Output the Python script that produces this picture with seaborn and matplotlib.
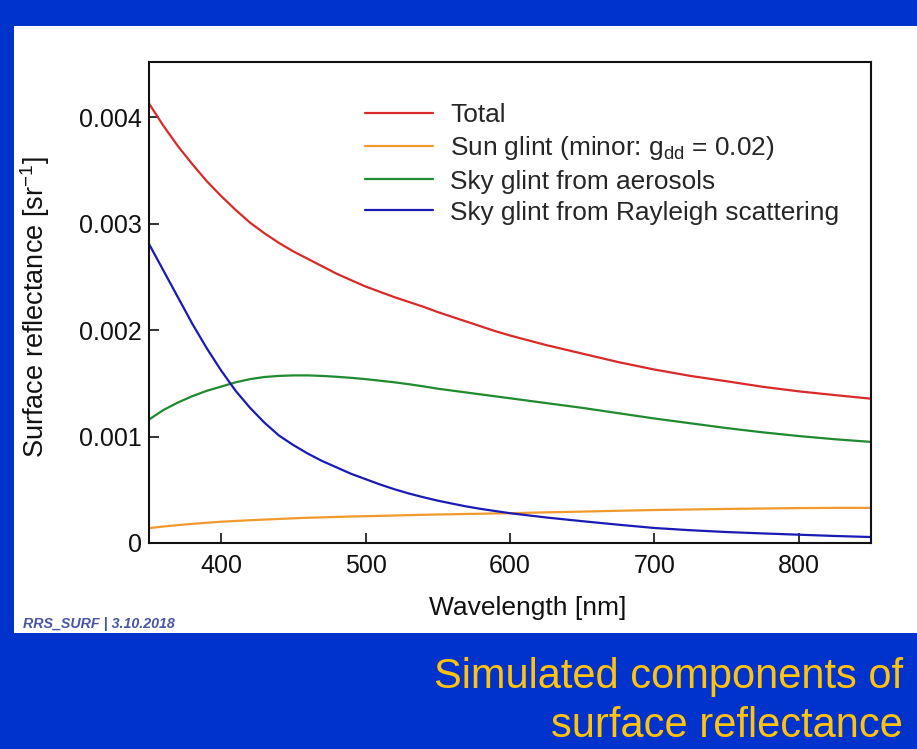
import matplotlib
matplotlib.use("Agg")
import matplotlib.pyplot as plt
from matplotlib.patches import Rectangle
import pandas as pd
import seaborn as sns

# Wavelength grid [nm]: 10 nm steps up to 600 nm, 25 nm steps beyond
wavelength = [350, 360, 370, 380, 390, 400, 410, 420, 430, 440, 450, 460,
              470, 480, 490, 500, 510, 520, 530, 540, 550, 560, 570, 580,
              590, 600, 625, 650, 675, 700, 725, 750, 775, 800, 825, 850]

# Simulated surface reflectance components [sr^-1]
total = [0.00413, 0.00392, 0.00373, 0.00356, 0.00340, 0.00326, 0.00313,
         0.00301, 0.00291, 0.00282, 0.00274, 0.00267, 0.00260, 0.00253,
         0.00247, 0.00241, 0.00236, 0.00231, 0.002265, 0.00222, 0.00217,
         0.002125, 0.00208, 0.002035, 0.00199, 0.00195, 0.00186, 0.00178,
         0.00170, 0.00163, 0.00157, 0.00152, 0.001468, 0.001425, 0.00139,
         0.001356]
sun_glint = [0.00014, 0.000155, 0.000168, 0.00018, 0.00019, 0.0002,
             0.000207, 0.000214, 0.00022, 0.000226, 0.000232, 0.000237,
             0.000241, 0.000245, 0.000249, 0.000252, 0.000255, 0.000258,
             0.000262, 0.000265, 0.000268, 0.00027, 0.000273, 0.000275,
             0.000278, 0.00028, 0.000288, 0.000295, 0.000303, 0.00031,
             0.000315, 0.00032, 0.000324, 0.000328, 0.00033, 0.00033]
sky_aerosol = [0.00116, 0.00125, 0.00132, 0.00138, 0.00143, 0.00147,
               0.00151, 0.00154, 0.00156, 0.00157, 0.001575, 0.001575,
               0.00157, 0.001562, 0.001552, 0.00154, 0.001525, 0.00151,
               0.001492, 0.001472, 0.00145, 0.001432, 0.001414, 0.001396,
               0.001378, 0.00136, 0.001315, 0.00127, 0.00122, 0.00117,
               0.001125, 0.00108, 0.00104, 0.001005, 0.000975, 0.00095]
sky_rayleigh = [0.00281, 0.00256, 0.00231, 0.00206, 0.00183, 0.00162,
                0.00143, 0.00127, 0.00113, 0.00101, 0.00092, 0.00084,
                0.00077, 0.00071, 0.00065, 0.00060, 0.00055, 0.000505,
                0.000465, 0.00043, 0.000398, 0.00037, 0.000343, 0.00032,
                0.0003, 0.00028, 0.00024, 0.000205, 0.000172, 0.000141,
                0.000120, 0.000103, 0.000090, 0.000078, 0.000066, 0.000056]

labels = ["Total",
          r"Sun glint (minor: $\mathregular{g_{dd}}$ = 0.02)",
          "Sky glint from aerosols",
          "Sky glint from Rayleigh scattering"]
colors = ["#d92a2a", "#f09a2e", "#1f8a2f", "#1a1ab4"]

x_ticks = [400, 500, 600, 700, 800]
y_ticks = [0, 0.001, 0.002, 0.003, 0.004]
y_ticklabels = ["0", "0.001", "0.002", "0.003", "0.004"]

frames = []
for lab, vals in zip(labels, [total, sun_glint, sky_aerosol, sky_rayleigh]):
    frames.append(pd.DataFrame({"wavelength": wavelength, "value": vals,
                                "component": lab}))
df = pd.concat(frames, ignore_index=True)

sns.set_theme(style="white")
plt.rcParams["font.family"] = ["Liberation Sans", "DejaVu Sans"]
plt.rcParams["mathtext.fontset"] = "custom"
plt.rcParams["mathtext.rm"] = "Liberation Sans"
plt.rcParams["mathtext.it"] = "Liberation Sans:italic"

W, H = 917, 749
fig = plt.figure(figsize=(W / 100, H / 100), dpi=100, facecolor="#0033cc")

# white slide panel behind the chart
fig.patches.append(Rectangle((14 / W, 1 - 633 / H), 1, (633 - 26) / H,
                             transform=fig.transFigure, facecolor="white",
                             edgecolor="none", zorder=-5))

ax = fig.add_axes([149 / W, 1 - 543 / H, (871 - 149) / W, (543 - 62) / H])
ax.set_facecolor("white")

sns.lineplot(data=df, x="wavelength", y="value", hue="component",
             palette=dict(zip(labels, colors)), hue_order=labels,
             linewidth=1.6, ax=ax, legend=True)

ax.set_xlim(350, 850)
ax.set_ylim(0, 0.00452)
ax.set_xticks(x_ticks)
ax.set_yticks(y_ticks)
ax.set_yticklabels(y_ticklabels)
ax.tick_params(direction="in", length=7.5, width=1.2, colors="#111111",
               labelsize=18, bottom=True, left=True, top=False, right=False)
ax.tick_params(axis="x", pad=8)
ax.tick_params(axis="y", pad=5)
for sp in ax.spines.values():
    sp.set_linewidth(1.5)
    sp.set_color("#111111")
    sp.set_visible(True)

ax.set_xlabel("Wavelength [nm]", fontsize=19, color="#111111")
ax.set_ylabel(r"Surface reflectance [sr$^{\mathregular{-1}}$]", fontsize=19.5,
              color="#111111")
ax.xaxis.set_label_coords(0.524, -0.11)
ax.yaxis.set_label_coords(-0.134, 0.49)

handles, labs = ax.get_legend_handles_labels()
ax.legend(handles, labs, loc="upper left", bbox_to_anchor=(0.299, 0.914),
          frameon=False, fontsize=18.9, handlelength=2.6, handletextpad=0.65,
          labelspacing=0.27, borderpad=0, borderaxespad=0)

fig.text(23 / W, 1 - 628 / H, "RRS_SURF | 3.10.2018", fontsize=10.3,
         style="italic", fontweight="bold", color="#4a55a5", ha="left",
         va="baseline")

fig.text(903 / W, 1 - 688 / H, "Simulated components of", fontsize=30,
         color="#ffc20e", ha="right", va="baseline")
fig.text(903 / W, 1 - 737 / H, "surface reflectance", fontsize=30,
         color="#ffc20e", ha="right", va="baseline")

fig.savefig("out.png", dpi=100, facecolor=fig.get_facecolor())
